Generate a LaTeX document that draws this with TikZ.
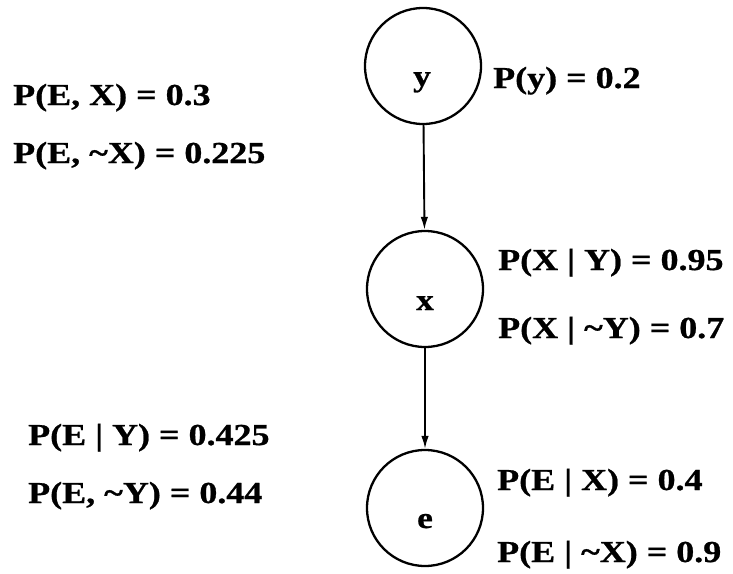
\documentclass[tikz,border=0pt]{standalone}
\usepackage{fontspec}
\setmainfont{Liberation Serif}[FakeStretch=1.18,BoldFeatures={FakeBold=0.8}]
\usetikzlibrary{arrows.meta}
\begin{document}
\begin{tikzpicture}[x=1pt,y=-1pt,
  circ/.style={draw,circle,line width=2.3pt,minimum size=116pt,inner sep=0pt},
  prob/.style={anchor=base west,inner sep=0pt,font=\fontsize{30.5}{36}\selectfont\bfseries},
  lbl/.style={anchor=base,inner sep=0pt,font=\fontsize{30}{36}\selectfont\bfseries},
  arr/.style={line width=1.9pt,-{Latex[length=13pt,width=7.5pt]}}]
\useasboundingbox[fill=white] (0,0) rectangle (733,573);
\node[circ] (y) at (423,66) {};
\node[circ] (x) at (425,289) {};
\node[circ] (e) at (425,508) {};
\node[lbl] (ylab) at (422,86) {y};
\node[lbl] (xlab) at (425,310) {x};
\node[lbl] (elab) at (425,528) {e};
\draw[arr] (y) -- (x);
\draw[arr] (x) -- (e);
\node[prob] (py) at (493,88) {P(y) = 0.2};
\node[prob] (pex) at (13,105) {P(E, X) = 0.3};
\node[prob] (penx) at (13,163) {P(E, \textasciitilde X) = 0.225};
\node[prob] (pxy) at (498,270) {P(X | Y) = 0.95};
\node[prob] (pxny) at (498,338) {P(X | \textasciitilde Y) = 0.7};
\node[prob] (pey) at (28,445) {P(E | Y) = 0.425};
\node[prob] (peny) at (28,503) {P(E, \textasciitilde Y) = 0.44};
\node[prob] (pegx) at (497,490) {P(E | X) = 0.4};
\node[prob] (pegnx) at (497,562) {P(E | \textasciitilde X) = 0.9};
\end{tikzpicture}
\end{document}
